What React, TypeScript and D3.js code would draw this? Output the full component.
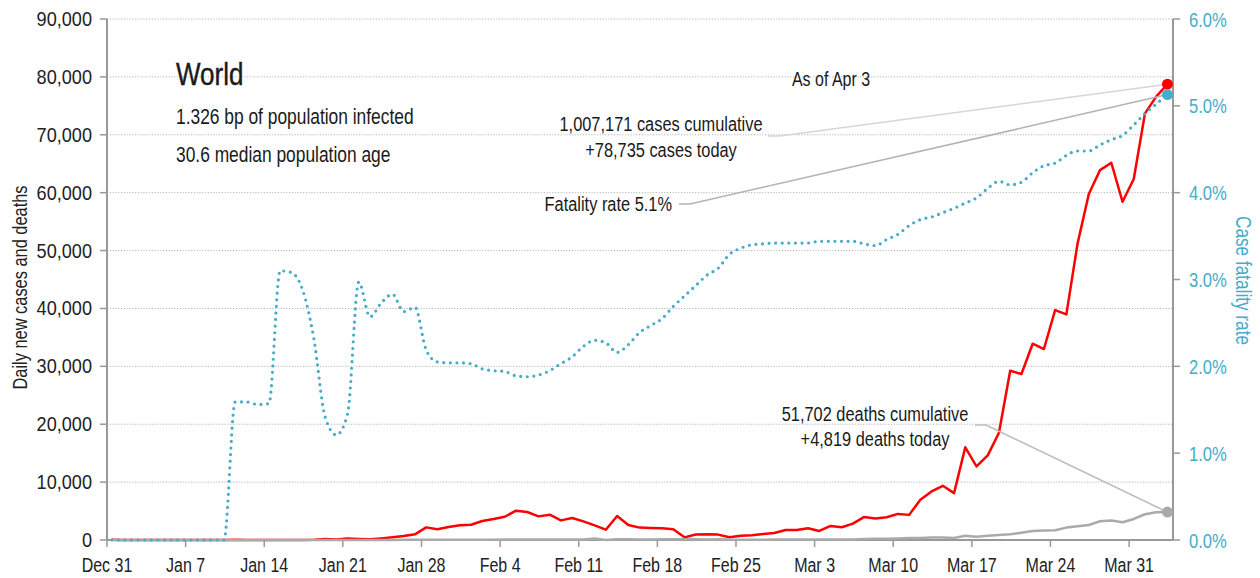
import React from "react";
import * as d3 from "d3";

// ---- data (Dec 31, 2019 .. Apr 3, 2020, one value per day) ----
const START = Date.UTC(2019, 11, 31);
const END = Date.UTC(2020, 3, 4);
const POINT_OFFSET_HOURS = 10;

const dailyCases = [
  27, 0, 0, 17, 0, 15, 0, 0, 0, 0,
  0, 30, 0, 1, 1, 0, 1, 4, 60, 180,
  100, 250, 180, 120, 280, 470, 700, 980, 2180, 1840,
  2240, 2530, 2640, 3280, 3620, 4020, 5060, 4830, 4080, 4370,
  3390, 3790, 3220, 2530, 1780, 4140, 2600, 2140, 2070, 2010,
  1840, 460, 960, 980, 930, 460, 750, 810, 1040, 1210,
  1730, 1730, 2020, 1560, 2430, 2200, 2830, 3990, 3700, 3930,
  4510, 4340, 6940, 8380, 9360, 8090, 16010, 12720, 14620, 18530,
  29240, 28670, 33910, 32990, 39720, 38980, 51240, 59760, 63900, 65170,
  58430, 62350, 73700, 76600, 78735,
];

const dailyDeaths = [
  0, 0, 0, 0, 0, 0, 0, 0, 0, 0,
  0, 1, 0, 0, 1, 0, 0, 0, 1, 1,
  3, 11, 0, 9, 15, 15, 25, 26, 26, 38,
  43, 46, 45, 57, 64, 66, 72, 73, 86, 89,
  97, 108, 97, 254, 13, 143, 142, 106, 98, 136,
  115, 118, 109, 97, 150, 71, 64, 37, 58, 67,
  72, 66, 70, 85, 87, 100, 107, 176, 231, 202,
  272, 329, 351, 448, 414, 350, 750, 580, 750, 870,
  980, 1270, 1560, 1620, 1680, 2140, 2370, 2600, 3240, 3350,
  3060, 3640, 4450, 4800, 4819,
];

// case fatality rate, percent
const fatalityRate = [
  0, 0, 0, 0, 0, 0, 0, 0, 0, 0,
  0, 1.59, 1.59, 1.56, 1.57, 3.10, 3.08, 2.88, 2.32, 1.42,
  1.21, 1.45, 2.97, 2.57, 2.73, 2.83, 2.63, 2.68, 2.19, 2.05,
  2.04, 2.04, 2.03, 1.97, 1.95, 1.94, 1.89, 1.88, 1.90, 1.95,
  2.03, 2.11, 2.23, 2.30, 2.27, 2.16, 2.25, 2.39, 2.47, 2.55,
  2.69, 2.81, 2.93, 3.05, 3.13, 3.29, 3.36, 3.40, 3.41, 3.42,
  3.42, 3.42, 3.42, 3.44, 3.44, 3.44, 3.44, 3.41, 3.39, 3.46,
  3.52, 3.62, 3.69, 3.72, 3.77, 3.82, 3.88, 3.94, 4.05, 4.13,
  4.09, 4.12, 4.23, 4.31, 4.34, 4.43, 4.48, 4.48, 4.55, 4.61,
  4.66, 4.78, 4.91, 5.02, 5.13,
];

const leftTicks = [0, 10000, 20000, 30000, 40000, 50000, 60000, 70000, 80000, 90000];
const rightTicks = [0, 1, 2, 3, 4, 5, 6];
const weekTickDays = [0, 7, 14, 21, 28, 35, 42, 49, 56, 63, 70, 77, 84, 91];

const titleText = "World";
const infoLines = ["1.326 bp of population infected", "30.6 median population age"];
const asOfText = "As of Apr 3";
const casesNote = ["1,007,171 cases cumulative", "+78,735 cases today"];
const fatalityNote = "Fatality rate 5.1%";
const deathsNote = ["51,702 deaths cumulative", "+4,819 deaths today"];

// ---- styling ----
const FONT = "'Liberation Sans', Arial, sans-serif";
const NARROW = 0.8;
const RED = "#ff0000";
const BLUE = "#45adc8";
const GRAY = "#aaaaaa";
const AXIS = "#999999";
const TEXT = "#1a1a1a";

const W = 1260;
const H = 578;
const left = 107;
const right = 1174;
const top = 19;
const bottom = 540;

const DAY = 864e5;

type TProps = {
  x: number;
  y: number;
  size: number;
  anchor?: "start" | "middle" | "end";
  fill?: string;
  rotate?: number;
  sx?: number;
  stroke?: string;
  strokeWidth?: number;
  children: React.ReactNode;
};

// condensed text: a regular sans, narrowed horizontally
function T({ x, y, size, anchor = "start", fill = TEXT, rotate = 0, sx = NARROW, stroke, strokeWidth, children }: TProps) {
  return (
    <text
      transform={`translate(${x},${y}) rotate(${rotate}) scale(${sx},1)`}
      textAnchor={anchor}
      fontSize={size}
      fill={fill}
      stroke={stroke}
      strokeWidth={strokeWidth}
    >
      {children}
    </text>
  );
}

export default function App() {
  const x = d3.scaleUtc().domain([new Date(START), new Date(END)]).range([left, right]);
  const yL = d3.scaleLinear().domain([0, 90000]).range([bottom, top]);
  const yR = d3.scaleLinear().domain([0, 6]).range([bottom, top]);

  const dates = dailyCases.map((_, i) => new Date(START + i * DAY + POINT_OFFSET_HOURS * 3600e3));
  const fmt = d3.utcFormat("%b %-d");
  const fmtNum = d3.format(",");

  const lineCases = d3.line<number>().x((_, i) => x(dates[i])).y((v) => yL(v));
  const lineDeaths = d3.line<number>().x((_, i) => x(dates[i])).y((v) => yL(v));
  const lineCfr = d3
    .line<number>()
    .x((_, i) => x(dates[i]))
    .y((v) => yR(v))
    .curve(d3.curveMonotoneX);

  const last = dailyCases.length - 1;
  const lx = x(dates[last]);
  const redY = yL(dailyCases[last]);
  const blueY = yR(fatalityRate[last]);
  const grayY = yL(dailyDeaths[last]);
  const axisRight = x.range()[1] - 1;

  return (
    <svg
      width={W}
      height={H}
      style={{ position: "absolute", left: 0, top: 0, display: "block", background: "#fff" }}
      fontFamily={FONT}
    >
      {/* grid */}
      {leftTicks.slice(1).map((t) => (
        <line
          key={"g" + t}
          x1={left}
          x2={axisRight}
          y1={yL(t)}
          y2={yL(t)}
          stroke="#b5b5b5"
          strokeWidth={1}
          strokeDasharray="1.2 1.6"
        />
      ))}

      {/* left axis */}
      <line x1={left} x2={left} y1={top} y2={bottom} stroke={AXIS} strokeWidth={2} />
      {leftTicks.map((t) => (
        <g key={"l" + t}>
          <line x1={left - 7} x2={left} y1={yL(t)} y2={yL(t)} stroke={AXIS} strokeWidth={1.5} />
          <T x={left - 15} y={yL(t) + 7} anchor="end" size={19.5} sx={0.93} fill="#222">
            {fmtNum(t)}
          </T>
        </g>
      ))}

      {/* right axis */}
      <line x1={axisRight} x2={axisRight} y1={top} y2={bottom} stroke={AXIS} strokeWidth={2} />
      {rightTicks.map((t) => (
        <g key={"r" + t}>
          <line x1={axisRight} x2={axisRight + 7} y1={yR(t)} y2={yR(t)} stroke={AXIS} strokeWidth={1.5} />
          <T x={axisRight + 16} y={yR(t) + 7.5} size={20.5} sx={0.81} fill={BLUE}>
            {t.toFixed(1) + "%"}
          </T>
        </g>
      ))}

      {/* bottom axis */}
      <line x1={left} x2={axisRight} y1={bottom} y2={bottom} stroke={AXIS} strokeWidth={2} />
      {weekTickDays.map((d) => {
        const dt = new Date(START + d * DAY);
        return (
          <g key={"x" + d}>
            <line x1={x(dt)} x2={x(dt)} y1={bottom} y2={bottom + 7} stroke={AXIS} strokeWidth={1.5} />
            <T x={x(dt)} y={bottom + 32} anchor="middle" size={20} fill="#222">
              {fmt(dt)}
            </T>
          </g>
        );
      })}

      {/* axis titles */}
      <T x={27} y={(top + bottom) / 2 + 8} rotate={-90} anchor="middle" size={20.5} fill="#222">
        Daily new cases and deaths
      </T>
      <T x={1236} y={(top + bottom) / 2 + 1} rotate={90} anchor="middle" size={21.5} fill={BLUE}>
        Case fatality rate
      </T>

      {/* series */}
      <path d={lineCases(dailyCases) || ""} fill="none" stroke={RED} strokeWidth={2.5} strokeLinejoin="round" />
      <path d={lineDeaths(dailyDeaths) || ""} fill="none" stroke={GRAY} strokeWidth={2.5} strokeLinejoin="round" />
      <path
        d={lineCfr(fatalityRate) || ""}
        fill="none"
        stroke={BLUE}
        strokeWidth={3.2}
        strokeLinecap="round"
        strokeDasharray="0 6.6"
      />

      {/* annotation leader lines */}
      <polyline points={`768,136 780,136 ${lx},${redY}`} fill="none" stroke="#d6d6d6" strokeWidth={1.6} />
      <polyline points={`679,204 690,204 ${lx},${blueY}`} fill="none" stroke="#b3b3b3" strokeWidth={1.6} />
      <polyline points={`975,425 986,425 ${lx},${grayY}`} fill="none" stroke="#bdbdbd" strokeWidth={1.6} />

      {/* end markers */}
      <circle cx={lx} cy={redY} r={5.5} fill={RED} />
      <circle cx={lx} cy={blueY} r={5.5} fill={BLUE} />
      <circle cx={lx} cy={grayY} r={5.5} fill={GRAY} />

      {/* texts */}
      <T x={176} y={85} size={31} sx={0.84} fill={TEXT} stroke={TEXT} strokeWidth={0.4}>
        {titleText}
      </T>
      {infoLines.map((s, i) => (
        <T key={s} x={176} y={124 + i * 38} size={22} sx={0.79}>
          {s}
        </T>
      ))}
      <T x={831} y={86} anchor="middle" size={20.5} sx={0.78}>
        {asOfText}
      </T>
      {casesNote.map((s, i) => (
        <T key={s} x={661} y={131 + i * 26} anchor="middle" size={21} sx={0.78}>
          {s}
        </T>
      ))}
      <T x={672} y={211} anchor="end" size={21} sx={0.78}>
        {fatalityNote}
      </T>
      {deathsNote.map((s, i) => (
        <T key={s} x={875} y={421 + i * 25} anchor="middle" size={21} sx={0.78}>
          {s}
        </T>
      ))}
    </svg>
  );
}
